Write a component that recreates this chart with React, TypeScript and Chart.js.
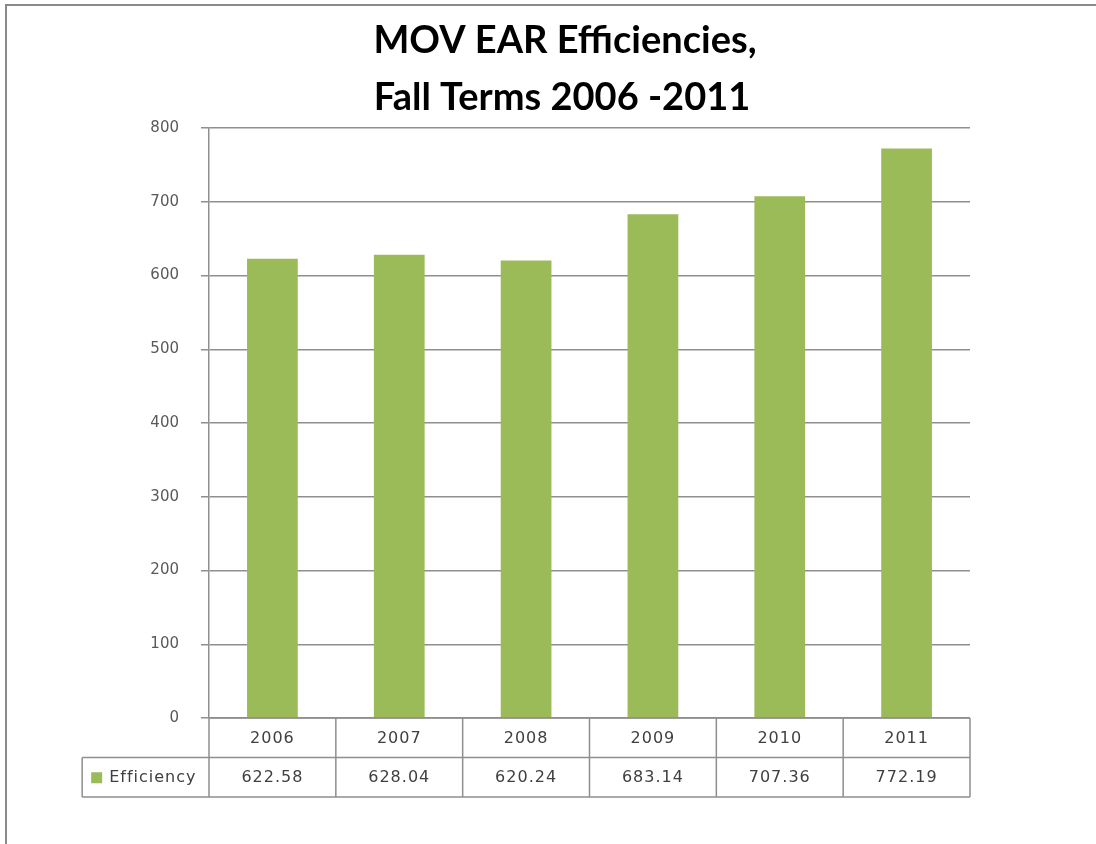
import React, { useEffect, useRef } from "react";
import { Chart, registerables } from "chart.js";

Chart.register(...registerables);

const categories = ["2006", "2007", "2008", "2009", "2010", "2011"];
const efficiency = [622.58, 628.04, 620.24, 683.14, 707.36, 772.19];
const valueLabels = ["622.58", "628.04", "620.24", "683.14", "707.36", "772.19"];
const seriesName = "Efficiency";
const titleLines = ["MOV EAR Efficiencies,", "Fall Terms 2006 -2011"];

const GREEN = "#9BBB59";
const LINE = "#8f8f8f";

const tablePlugin = {
  id: "dataTable",
  afterDraw(chart: any) {
    const ctx = chart.ctx as CanvasRenderingContext2D;
    const { left, right, bottom } = chart.chartArea;
    const x = chart.scales.x;
    const n = categories.length;
    const colW = (right - left) / n;
    const rowH = 39.5;
    const headLeft = left - colW;
    ctx.save();
    // outer frame
    ctx.strokeStyle = "#8a8a8a";
    ctx.lineWidth = 2;
    ctx.beginPath();
    ctx.moveTo(chart.width, 5);
    ctx.lineTo(6, 5);
    ctx.lineTo(6, chart.height);
    ctx.stroke();

    // title
    ctx.fillStyle = "#000000";
    ctx.font = "bold 38px Lato";
    ctx.textAlign = "center";
    ctx.textBaseline = "alphabetic";
    ctx.fillText(titleLines[0], chart.width / 2 + 17, 53);
    ctx.fillText(titleLines[1], chart.width / 2 + 14, 110);

    ctx.strokeStyle = LINE;
    ctx.lineWidth = 1.5;
    ctx.beginPath();
    ctx.moveTo(left, bottom);
    ctx.lineTo(right, bottom);
    ctx.moveTo(headLeft, bottom + rowH);
    ctx.lineTo(right, bottom + rowH);
    ctx.moveTo(headLeft, bottom + 2 * rowH);
    ctx.lineTo(right, bottom + 2 * rowH);
    for (let i = 0; i <= n; i++) {
      const px = x.getPixelForValue(i - 0.5);
      ctx.moveTo(px, bottom);
      ctx.lineTo(px, bottom + 2 * rowH);
    }
    ctx.moveTo(headLeft, bottom + rowH);
    ctx.lineTo(headLeft, bottom + 2 * rowH);
    ctx.stroke();

    ctx.fillStyle = "#404040";
    ctx.font = "16px 'DejaVu Sans'";
    (ctx as any).letterSpacing = "1px";
    ctx.textAlign = "center";
    ctx.textBaseline = "middle";
    for (let i = 0; i < n; i++) {
      const cx = x.getPixelForValue(i);
      ctx.fillText(categories[i], cx, bottom + rowH / 2 + 1);
      ctx.fillText(valueLabels[i], cx, bottom + rowH * 1.5 + 1);
    }
    ctx.fillStyle = GREEN;
    ctx.fillRect(headLeft + 9, bottom + rowH * 1.5 - 5, 11, 11);
    ctx.fillStyle = "#404040";
    ctx.textAlign = "left";
    ctx.fillText(seriesName, headLeft + 27, bottom + rowH * 1.5 + 1);
    (ctx as any).letterSpacing = "0px";
    ctx.restore();
  },
};

export default function App() {
  const ref = useRef<HTMLCanvasElement>(null);
  useEffect(() => {
    if (!ref.current) return;
    const chart = new Chart(ref.current, {
      type: "bar",
      data: {
        labels: categories,
        datasets: [
          {
            label: seriesName,
            data: efficiency,
            backgroundColor: GREEN,
            borderWidth: 0,
            barPercentage: 0.4,
            categoryPercentage: 1,
          },
        ],
      },
      options: {
        animation: false,
        responsive: false,
        layout: { padding: { left: 0, right: 126, bottom: 126, top: 128 } },
        plugins: {
          legend: { display: false },
          tooltip: { enabled: false },
          title: { display: false },
        },
        scales: {
          x: { display: false },
          y: {
            min: 0,
            max: 800,
            ticks: {
              stepSize: 100,
              color: "#595959",
              font: { family: "DejaVu Sans", size: 15 },
              padding: 22,
            },
            grid: { color: LINE, lineWidth: 1.5, tickLength: 8, drawTicks: true },
            border: { display: true, color: LINE, width: 1.5 },
            afterFit(scale: any) {
              scale.width = 209;
            },
          },
        },
      },
      plugins: [tablePlugin],
    });
    return () => chart.destroy();
  }, []);
  return (
    <div style={{ position: "absolute", left: 0, top: 0, width: 1096, height: 844, background: "#fff" }}>
      <canvas ref={ref} width={1096} height={844} />
    </div>
  );
}
